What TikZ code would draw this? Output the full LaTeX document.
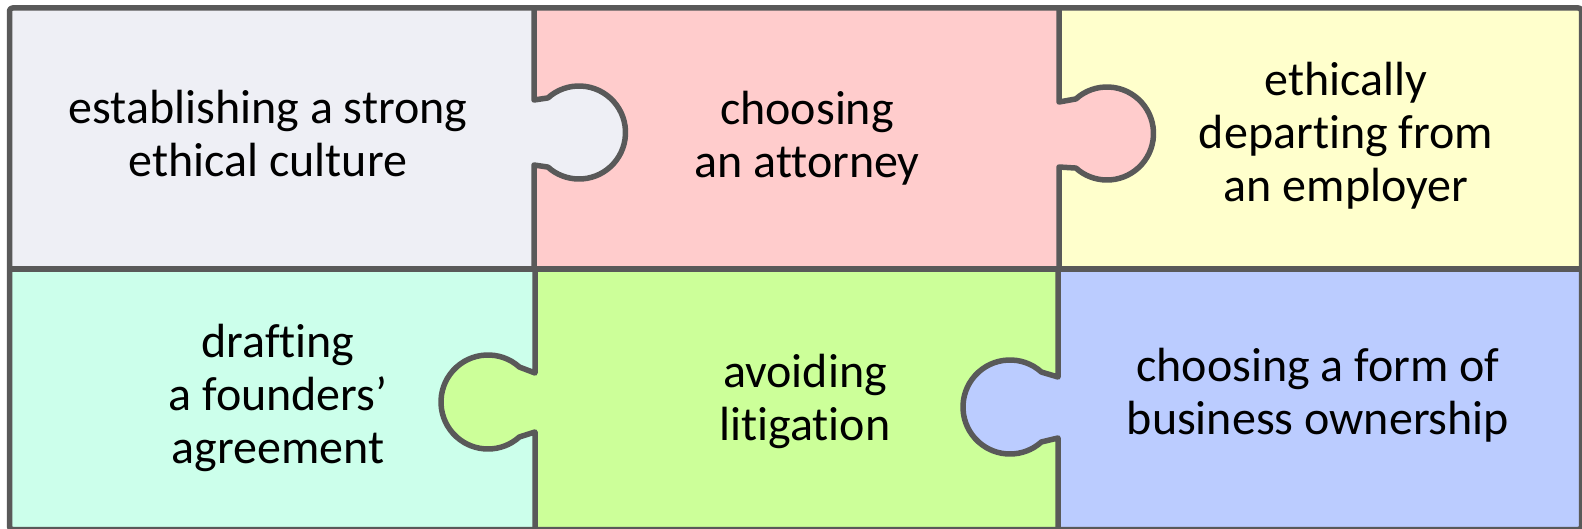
\documentclass[tikz,border=0pt]{standalone}
\usepackage{fontspec}
\setmainfont{Carlito}[Ligatures=NoCommon]
\usepackage{xcolor}
\usepackage{tikz}
\usetikzlibrary{positioning,calc}

\definecolor{edgegray}{HTML}{595959}
\definecolor{cellgray}{HTML}{EEEFF5}
\definecolor{cellpink}{HTML}{FFCCCC}
\definecolor{cellyellow}{HTML}{FFFFCC}
\definecolor{cellmint}{HTML}{CCFFEB}
\definecolor{cellgreen}{HTML}{CCFF99}
\definecolor{cellblue}{HTML}{BBCCFF}

\tikzset{
    piece/.style={draw=edgegray, line width=5.5pt, line join=round},
    label/.style={align=center, inner sep=0pt, text=black,
        font=\fontsize{48}{53}\selectfont},
}

\begin{document}
\begin{tikzpicture}[x=1pt,y=1pt]
    \useasboundingbox (0,0) rectangle (1582,528);

    % Cells
    \fill[cellgray]   (9.5,259)   rectangle (534,520);
    \fill[cellpink]   (534,259)   rectangle (1059,520);
    \fill[cellyellow] (1059,259)  rectangle (1581.5,520);
    \fill[cellmint]   (9.5,-1.5)  rectangle (535,259);
    \fill[cellgreen]  (535,-1.5)  rectangle (1058,259);
    \fill[cellblue]   (1058,-1.5) rectangle (1581.5,259);

    % Tabs (filled with the colour of the piece they belong to)
    \fill[cellgray]  (534,428) -- ($(579,395.5)+(132:46.5)$) arc (132:-132:46.5) -- (534,363) -- cycle;
    \fill[cellpink]  (1059,426) -- ($(1107,394.5)+(132:46.5)$) arc (132:-132:46.5) -- (1059,361) -- cycle;
    \fill[cellgreen] (535,155) -- ($(488,126)+(48:47)$) arc (48:312:47) -- (535,96) -- cycle;
    \fill[cellblue]  (1058,151) -- ($(1010,121)+(48:47)$) arc (48:312:47) -- (1058,90) -- cycle;

    % Dividers, row 1
    \draw[piece] (534,520) -- (534,428) -- ($(579,395.5)+(132:46.5)$) arc (132:-132:46.5) -- (534,363) -- (534,259);
    \draw[piece] (1059,520) -- (1059,426) -- ($(1107,394.5)+(132:46.5)$) arc (132:-132:46.5) -- (1059,361) -- (1059,259);
    % Dividers, row 2
    \draw[piece] (535,259) -- (535,155) -- ($(488,126)+(48:47)$) arc (48:312:47) -- (535,96) -- (535,-1.5);
    \draw[piece] (1058,259) -- (1058,151) -- ($(1010,121)+(48:47)$) arc (48:312:47) -- (1058,90) -- (1058,-1.5);
    \draw[piece] (9.5,259) -- (1581.5,259);

    % Outer frame
    \draw[piece, rounded corners=3pt] (9.5,-1.5) rectangle (1581.5,520);

    % Labels
    \node[label] (culture)   at (268,394)  {establishing a strong\\ethical culture};
    \node[label] (attorney)  at (807,390)  {choosing\\an attorney};
    \node[label] (departing) at (1346,392) {ethically\\departing from\\an employer};
    \node[label] (founders)  at (278,130)  {drafting\\a founders’\\agreement};
    \node[label] (avoiding)  at (805,127)  {avoiding\\litigation};
    \node[label] (ownership) at (1318,133) {choosing a form of\\business ownership};
\end{tikzpicture}
\end{document}
